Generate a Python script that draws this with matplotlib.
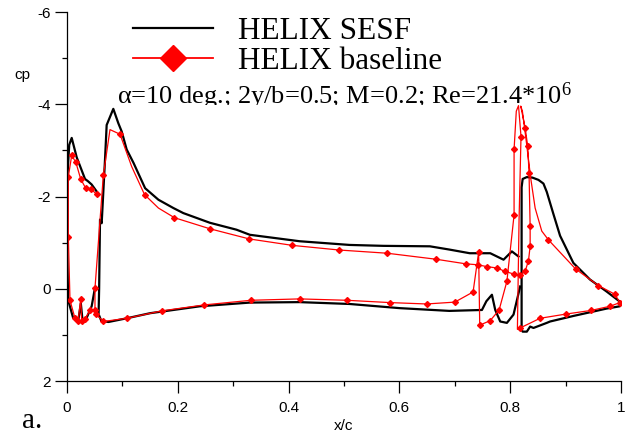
import matplotlib
matplotlib.use("Agg")
from matplotlib import pyplot as plt
from matplotlib.lines import Line2D
from matplotlib.transforms import Bbox, TransformedBbox

plt.rcParams['font.family'] = ['Liberation Sans', 'DejaVu Sans']
plt.rcParams['axes.unicode_minus'] = False
plt.rcParams['mathtext.fontset'] = 'custom'
plt.rcParams['mathtext.rm'] = 'Liberation Serif'
plt.rcParams['mathtext.default'] = 'regular'

# HELIX SESF, one open curve per element (x/c, cp)
sesf_slat_x = [0.0535, 0.0445, 0.038, 0.0325, 0.0175, 0.0085, 0.004, 0.001, 0.0,
               0.002, 0.011, 0.020, 0.025, 0.028, 0.0355, 0.0445, 0.0505]
sesf_slat_cp = [-2.11, -2.26, -2.33, -2.38, -2.85, -3.27, -3.12, -2.5, -1.2,
                0.24, 0.63, 0.71, 0.32, 0.68, 0.63, 0.38, -0.02]

sesf_main_x = [0.818, 0.806, 0.794, 0.782, 0.773, 0.767, 0.757, 0.749, 0.69, 0.60,
               0.51, 0.42, 0.33, 0.24, 0.15, 0.108, 0.075, 0.062, 0.057, 0.058,
               0.0596, 0.0626, 0.0686, 0.0716, 0.0836, 0.0926, 0.0987, 0.1077,
               0.12, 0.141, 0.165, 0.192, 0.21, 0.258, 0.306, 0.33, 0.42, 0.51,
               0.571, 0.655, 0.69, 0.727, 0.764, 0.776, 0.788, 0.803, 0.815]
sesf_main_cp = [-0.05, 0.56, 0.74, 0.71, 0.46, 0.13, 0.27, 0.46, 0.48, 0.42,
                0.33, 0.29, 0.30, 0.38, 0.53, 0.64, 0.72, 0.70, 0.55, 0.0,
                -1.5, -1.42, -2.8, -3.55, -3.9, -3.59, -3.41, -3.02,
                -2.73, -2.18, -1.93, -1.75, -1.64, -1.43, -1.28, -1.17, -1.03, -0.95,
                -0.93, -0.92, -0.85, -0.77, -0.77, -0.70, -0.63, -0.81, -0.70]

sesf_flap_x = [1.0, 0.998, 0.974, 0.914, 0.872, 0.866, 0.842, 0.836, 0.83, 0.8225,
               0.8206, 0.8206, 0.8225, 0.8298, 0.84, 0.851, 0.86, 0.866, 0.878,
               0.89, 0.914, 0.944, 0.974, 0.998, 1.0]
sesf_flap_cp = [0.35, 0.38, 0.43, 0.59, 0.71, 0.74, 0.85, 0.82, 0.93, 0.93,
                0.89, -2.2, -2.38, -2.42, -2.41, -2.36, -2.28, -2.10, -1.62,
                -1.15, -0.56, -0.20, 0.06, 0.28, 0.33]

# HELIX baseline, slat and the main/flap loop (x/c, cp)
base_slat_x = [0.0535, 0.0433, 0.0337, 0.0247, 0.016, 0.0085, 0.0024, 0.0024,
               0.0054, 0.0144, 0.020, 0.0247, 0.0265, 0.0325, 0.0415]
base_slat_cp = [-2.05, -2.16, -2.18, -2.38, -2.74, -2.89, -2.43, -1.13,
                0.25, 0.64, 0.71, 0.22, 0.71, 0.66, 0.46]

base_loop_x = [0.818, 0.806, 0.79, 0.776, 0.758, 0.741, 0.72, 0.666, 0.578, 0.491,
               0.407, 0.329, 0.258, 0.194, 0.165, 0.140, 0.1167, 0.0957, 0.0776,
               0.0656, 0.0505, 0.0505, 0.052, 0.0656, 0.108, 0.171, 0.248, 0.332,
               0.42, 0.505, 0.583, 0.649, 0.70, 0.733, 0.743, 0.745, 0.764, 0.780,
               0.794, 0.807, 0.807, 0.811, 0.815, 0.8195, 0.816, 0.813, 0.818,
               0.854, 0.90, 0.946, 0.98, 0.998, 0.989, 0.959, 0.918, 0.869, 0.857,
               0.845, 0.837, 0.829, 0.822, 0.819, 0.827, 0.8316, 0.834, 0.836,
               0.836, 0.833, 0.827, 0.818]
base_loop_cp = [-0.29, -0.32, -0.38, -0.45, -0.48, -0.52, -0.54, -0.64, -0.77, -0.84,
                -0.94, -1.08, -1.30, -1.54, -1.75, -2.04, -2.65, -3.35, -3.45,
                -2.46, -0.01, 0.46, 0.55, 0.71, 0.64, 0.48, 0.35, 0.25,
                0.22, 0.25, 0.30, 0.33, 0.29, 0.07, -0.79, 0.79, 0.69, 0.46,
                -0.16, -1.6, -3.02, -3.85, -3.97, -3.30, -1.5, 0.88, 0.85,
                0.64, 0.55, 0.47, 0.38, 0.30, 0.12, -0.07, -0.43, -1.06, -1.25,
                -1.75, -2.4, -3.2, -3.85, -3.96, -3.49, -3.09, -2.51, -1.35,
                -0.92, -0.61, -0.38, -0.29]
# vertices of the loop that carry a diamond
base_loop_marked = [0, 1, 2, 3, 4, 5, 6, 7, 8, 9, 10, 11, 12, 13, 15, 17, 19, 20,
                    21, 22, 23, 24, 25, 26, 27, 28, 29, 30, 31, 32, 33, 34, 35, 36,
                    37, 38, 39, 40, 43, 46, 47, 48, 49, 50, 51, 52, 53, 54, 55,
                    62, 63, 64, 65, 66, 67, 68]

fig = plt.figure(figsize=(6.29, 4.36), dpi=100)
ax = fig.add_axes([67 / 629, 1 - 381 / 436, 554 / 629, 369 / 436])

black = dict(color='black', lw=1.6, solid_joinstyle='round')
ax.plot(sesf_slat_x, sesf_slat_cp, **black)
ax.plot(sesf_main_x, sesf_main_cp, **black)
ax.plot(sesf_flap_x, sesf_flap_cp, **black)

red = dict(color='red', lw=0.9, marker='D', ms=3.0, mec='red', mfc='red')
ax.plot(base_slat_x, base_slat_cp, **red)
ax.plot(base_loop_x, base_loop_cp, markevery=base_loop_marked, **red)

ax.set_xlim(0, 1)
ax.set_ylim(2, -6)
ax.set_xticks([0, 0.2, 0.4, 0.6, 0.8, 1.0])
ax.set_xticklabels(['0', '0.2', '0.4', '0.6', '0.8', '1'])
ax.set_xticks([0.1, 0.3, 0.5, 0.7, 0.9], minor=True)
ax.set_yticks([-6, -4, -2, 0, 2])
ax.set_yticklabels(['-6', '-4', '-2', '0', '2'])
ax.set_yticks([-5, -3, -1, 1], minor=True)
ax.tick_params(which='major', direction='out', length=8.5, width=0.9, labelsize=11)
ax.tick_params(which='minor', direction='out', length=3.5, width=0.9)
ax.tick_params(axis='x', pad=6)
ax.tick_params(axis='y', pad=3)
for side in ['top', 'right']:
    ax.spines[side].set_visible(False)
for side in ['left', 'bottom']:
    ax.spines[side].set_linewidth(0.9)

ax.set_xlabel('x/c', fontsize=11, labelpad=3)
fig.text(22 / 629, 1 - 75 / 436, 'cp', fontsize=11, ha='center', va='center')

handles = [Line2D([], [], color='black', lw=1.6),
           Line2D([], [], color='red', lw=1.3, marker='D', ms=13)]
ax.legend(handles, ['HELIX SESF', 'HELIX baseline'], loc='upper left',
          bbox_to_anchor=(133 / 629, 1 - 17 / 436), bbox_transform=fig.transFigure,
          frameon=False, borderpad=0, borderaxespad=0, handlelength=2.55,
          handletextpad=0.8, labelspacing=0.03,
          prop={'family': 'Liberation Serif', 'size': 22.5})

cond = fig.text(117 / 629, 1 - 104 / 436,
                'α=10 deg.; 2y/b=0.5; M=0.2; Re=21.4*10$^{6}$',
                fontsize=19, family='Liberation Serif', va='baseline')
cond.set_clip_box(TransformedBbox(Bbox([[0, 1 - 105.5 / 436], [1, 1]]), fig.transFigure))
cond.set_clip_on(True)

fig.text(22 / 629, 1 - 428 / 436, 'a.', fontsize=21, family='Liberation Serif',
         va='baseline')

fig.savefig('out.png', dpi=100)
